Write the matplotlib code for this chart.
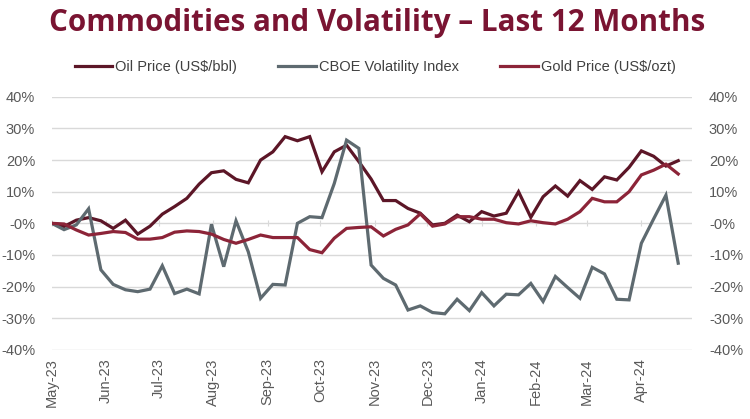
import matplotlib
matplotlib.use("Agg")
import matplotlib.pyplot as plt
import matplotlib.dates as mdates
import numpy as np
import pandas as pd

# weekly % change since start of period
dates = pd.date_range("2023-05-01", periods=52, freq="7D")

oil = [0.0, -1.0, 1.0, 1.8, 0.8, -1.6, 1.0, -3.4, -0.9, 2.9,
       5.3, 7.9, 12.4, 16.0, 16.6, 13.9, 12.8, 20.0, 22.6, 27.4,
       26.1, 27.4, 16.3, 22.6, 24.7, 19.5, 14.0, 7.2, 7.2, 4.7,
       3.2, -0.5, 0.0, 2.6, 0.5, 3.7, 2.3, 3.2, 10.0, 1.9,
       8.4, 11.8, 8.6, 13.5, 10.7, 14.7, 13.7, 17.7, 22.9, 21.2,
       18.1, 19.8]

vix = [0.0, -2.0, -0.5, 4.6, -14.7, -19.3, -21.0, -21.6, -20.8, -13.4,
       -22.2, -20.8, -22.3, -0.3, -13.7, 0.8, -9.0, -23.7, -19.3, -19.5,
       0.0, 2.1, 1.8, 12.6, 26.3, 23.7, -13.2, -17.4, -19.5, -27.4,
       -26.1, -28.2, -28.6, -24.0, -27.6, -21.9, -26.1, -22.4, -22.6, -19.0,
       -24.7, -16.8, -20.3, -23.7, -13.9, -16.0, -24.0, -24.2, -6.3, 1.4,
       8.9, -12.6]

gold = [0.0, -0.2, -2.1, -3.7, -3.2, -2.6, -2.9, -5.0, -5.0, -4.5,
        -2.8, -2.4, -2.6, -3.4, -5.1, -6.3, -5.1, -3.7, -4.5, -4.5,
        -4.5, -8.3, -9.3, -4.7, -1.6, -1.3, -1.1, -4.0, -1.9, -0.5,
        3.0, -0.9, -0.2, 2.1, 2.1, 1.3, 1.3, 0.2, -0.2, 0.8,
        0.2, -0.2, 1.3, 3.7, 7.9, 6.8, 6.8, 10.0, 15.3, 16.8,
        18.7, 15.6]

labels = ["Oil Price (US$/bbl)", "CBOE Volatility Index", "Gold Price (US$/ozt)"]
colors = ["#5C1627", "#5E6A70", "#8C2438"]

plt.rcParams['font.family'] = ['Liberation Sans', 'DejaVu Sans']

fig = plt.figure(figsize=(7.5, 4.19), dpi=100)
ax = fig.add_axes([0.069, 0.165, 0.854, 0.604])

for s, lab, c in zip([oil, vix, gold], labels, colors):
    ax.plot(dates, np.array(s) / 100, color=c, lw=2.3, label=lab,
            solid_joinstyle='miter')

ax.set_ylim(-0.4, 0.4)
ax.set_xlim(pd.Timestamp("2023-05-01"), pd.Timestamp("2024-04-30"))
yt = np.arange(-0.4, 0.41, 0.1)
ax.set_yticks(yt)
ax.set_yticklabels([f"{v*100:.0f}%" for v in yt])
ax.grid(axis='y', color='#D9D9D9', lw=1)
ax.set_axisbelow(True)
for sp in ax.spines.values():
    sp.set_visible(False)

months = pd.date_range("2023-05-01", "2024-04-01", freq="MS")
ax.set_xticks(months)
ax.xaxis.set_major_formatter(mdates.DateFormatter("%b-%y"))
ax.tick_params(axis='x', rotation=90, length=0, colors='#595959',
               labelsize=10.5, pad=6)
ax.tick_params(axis='y', length=0, colors='#595959', labelsize=10.5, pad=12)

# small tick marks on the 0% line
sec = ax.secondary_xaxis(0.5)
sec.set_xticks(months)
sec.tick_params(axis='x', direction='inout', length=5, color='#D9D9D9',
                labelbottom=False, labeltop=False, bottom=True, top=False)
sec.spines['bottom'].set_visible(False)
sec.spines['top'].set_visible(False)

ax2 = ax.twinx()
ax2.set_ylim(-0.4, 0.4)
ax2.set_yticks(yt)
ax2.set_yticklabels([f"{v*100:.0f}%" for v in yt])
ax2.tick_params(axis='y', length=0, colors='#595959', labelsize=10.5, pad=12)
for sp in ax2.spines.values():
    sp.set_visible(False)

fig.text(0.503, 0.945, "Commodities and Volatility \u2013 Last 12 Months",
         ha='center', va='center', fontsize=21.3, fontweight='bold',
         color='#7A1432', family=['Open Sans', 'DejaVu Sans'])

ax.legend(loc='center', bbox_to_anchor=(0.5, 0.84), bbox_transform=fig.transFigure,
          ncol=3, frameon=False, fontsize=10.5, handlelength=2.6,
          handletextpad=0.2, columnspacing=2.8, labelcolor='#404040')

fig.savefig("out.png", dpi=100)
